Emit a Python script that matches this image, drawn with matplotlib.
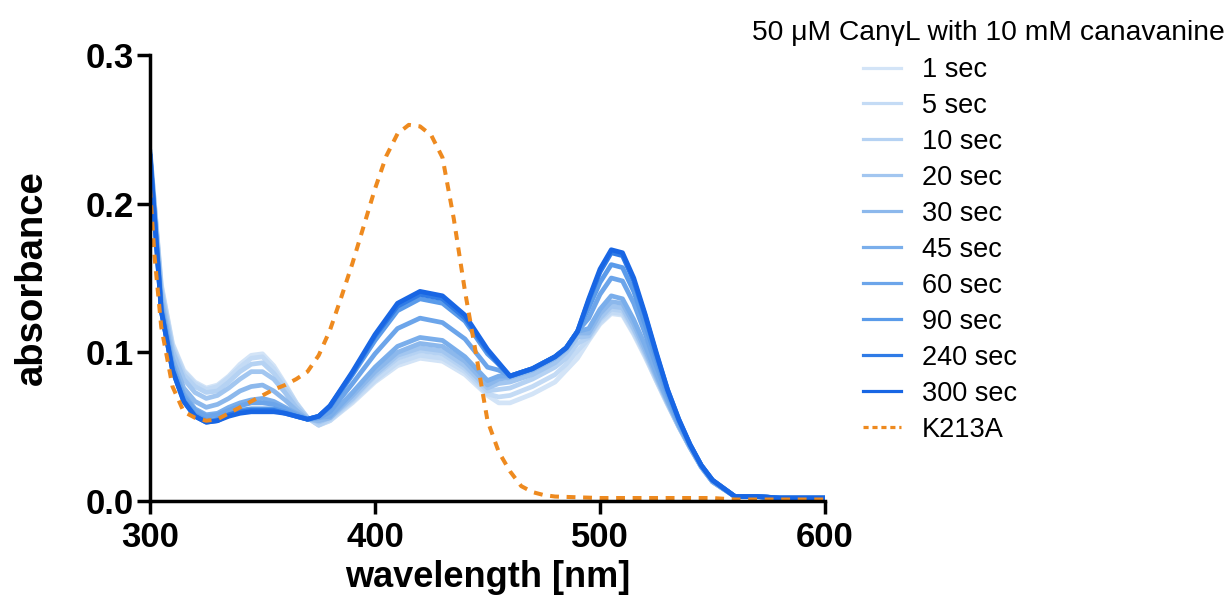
import matplotlib
matplotlib.use("Agg")
import matplotlib.pyplot as plt
from matplotlib.lines import Line2D

plt.rcParams['font.family'] = ['Liberation Sans', 'DejaVu Sans']

wavelength = [300, 305, 310, 315, 320, 325, 330, 335, 340, 345, 350, 355, 360, 365, 370, 375,
              380, 390, 400, 410, 420, 430, 440, 450, 455, 460, 470, 480, 485, 490, 495, 500,
              505, 510, 515, 520, 525, 530, 535, 540, 545, 550, 560, 570, 580, 590, 600]

s1 = [0.236, 0.146, 0.106, 0.088, 0.080, 0.076, 0.078, 0.084, 0.092, 0.098, 0.099, 0.091, 0.079, 0.066, 0.056, 0.051,
      0.054, 0.066, 0.080, 0.091, 0.096, 0.094, 0.085, 0.071, 0.066, 0.066, 0.072, 0.080, 0.088, 0.096, 0.108, 0.119,
      0.126, 0.125, 0.112, 0.097, 0.081, 0.065, 0.050, 0.036, 0.023, 0.013, 0.003, 0.003, 0.002, 0.002, 0.002]
s5 = [0.236, 0.145, 0.105, 0.087, 0.079, 0.075, 0.077, 0.083, 0.090, 0.096, 0.097, 0.089, 0.078, 0.066, 0.056, 0.051,
      0.054, 0.067, 0.081, 0.093, 0.098, 0.096, 0.087, 0.072, 0.070, 0.071, 0.077, 0.085, 0.092, 0.101, 0.109, 0.120,
      0.127, 0.126, 0.113, 0.098, 0.081, 0.065, 0.050, 0.036, 0.023, 0.013, 0.003, 0.003, 0.002, 0.002, 0.002]
s10 = [0.236, 0.143, 0.103, 0.085, 0.077, 0.073, 0.074, 0.080, 0.087, 0.092, 0.093, 0.086, 0.076, 0.065, 0.056, 0.051,
       0.055, 0.068, 0.084, 0.096, 0.101, 0.099, 0.089, 0.074, 0.075, 0.076, 0.082, 0.090, 0.096, 0.106, 0.110, 0.122,
       0.129, 0.128, 0.115, 0.099, 0.082, 0.066, 0.050, 0.036, 0.023, 0.013, 0.003, 0.003, 0.002, 0.002, 0.002]
s20 = [0.235, 0.141, 0.101, 0.082, 0.073, 0.069, 0.071, 0.076, 0.082, 0.087, 0.087, 0.082, 0.073, 0.063, 0.056, 0.053,
       0.056, 0.069, 0.085, 0.098, 0.103, 0.101, 0.091, 0.076, 0.079, 0.080, 0.085, 0.093, 0.100, 0.110, 0.111, 0.123,
       0.131, 0.130, 0.116, 0.100, 0.083, 0.066, 0.050, 0.036, 0.023, 0.013, 0.003, 0.003, 0.002, 0.002, 0.002]
s30 = [0.234, 0.136, 0.096, 0.076, 0.067, 0.063, 0.065, 0.069, 0.074, 0.077, 0.078, 0.074, 0.068, 0.061, 0.055, 0.054,
       0.056, 0.071, 0.087, 0.100, 0.106, 0.104, 0.094, 0.078, 0.082, 0.083, 0.088, 0.096, 0.102, 0.113, 0.113, 0.126,
       0.134, 0.133, 0.119, 0.102, 0.084, 0.067, 0.051, 0.036, 0.023, 0.013, 0.003, 0.003, 0.002, 0.002, 0.002]
s45 = [0.234, 0.132, 0.092, 0.072, 0.062, 0.058, 0.059, 0.063, 0.066, 0.068, 0.069, 0.067, 0.063, 0.059, 0.055, 0.056,
       0.057, 0.073, 0.090, 0.104, 0.110, 0.108, 0.097, 0.081, 0.084, 0.084, 0.089, 0.097, 0.103, 0.114, 0.116, 0.129,
       0.138, 0.136, 0.122, 0.105, 0.086, 0.068, 0.051, 0.037, 0.023, 0.013, 0.003, 0.003, 0.002, 0.002, 0.002]
s60 = [0.234, 0.131, 0.091, 0.070, 0.061, 0.057, 0.058, 0.061, 0.064, 0.066, 0.066, 0.065, 0.062, 0.058, 0.055, 0.056,
       0.060, 0.079, 0.099, 0.116, 0.123, 0.120, 0.109, 0.090, 0.088, 0.084, 0.089, 0.097, 0.103, 0.114, 0.123, 0.139,
       0.150, 0.148, 0.133, 0.113, 0.091, 0.071, 0.053, 0.037, 0.024, 0.014, 0.003, 0.003, 0.002, 0.002, 0.002]
s90 = [0.233, 0.129, 0.089, 0.068, 0.058, 0.054, 0.055, 0.058, 0.061, 0.062, 0.062, 0.062, 0.060, 0.057, 0.055, 0.057,
       0.063, 0.085, 0.108, 0.128, 0.136, 0.133, 0.121, 0.099, 0.092, 0.084, 0.089, 0.097, 0.103, 0.114, 0.130, 0.147,
       0.159, 0.157, 0.141, 0.119, 0.096, 0.073, 0.054, 0.038, 0.024, 0.014, 0.003, 0.003, 0.002, 0.002, 0.002]
s240 = [0.233, 0.128, 0.088, 0.067, 0.057, 0.053, 0.054, 0.058, 0.060, 0.061, 0.061, 0.061, 0.059, 0.057, 0.055, 0.057,
        0.064, 0.086, 0.111, 0.131, 0.139, 0.136, 0.123, 0.101, 0.092, 0.084, 0.089, 0.097, 0.103, 0.114, 0.135, 0.154,
        0.167, 0.165, 0.148, 0.125, 0.099, 0.075, 0.055, 0.038, 0.024, 0.014, 0.003, 0.003, 0.002, 0.002, 0.002]
s300 = [0.233, 0.128, 0.088, 0.067, 0.057, 0.053, 0.054, 0.057, 0.059, 0.060, 0.060, 0.060, 0.059, 0.057, 0.055, 0.057,
        0.064, 0.087, 0.112, 0.133, 0.141, 0.138, 0.125, 0.102, 0.093, 0.084, 0.089, 0.097, 0.103, 0.114, 0.136, 0.156,
        0.169, 0.167, 0.150, 0.126, 0.100, 0.075, 0.055, 0.038, 0.024, 0.014, 0.003, 0.003, 0.002, 0.002, 0.002]

series = [s1, s5, s10, s20, s30, s45, s60, s90, s240, s300]
labels = ['1 sec', '5 sec', '10 sec', '20 sec', '30 sec', '45 sec', '60 sec', '90 sec', '240 sec', '300 sec']
colors = ['#D3E4F7', '#C4DBF5', '#B5D2F3', '#A2C6F0', '#8CB8EC', '#7AAEEB', '#6CA5EA', '#5A9BEA', '#2F7BE6', '#1866E4']

k213a_wl = [300, 302, 305, 310, 315, 320, 325, 330, 335, 340, 345, 350, 355, 360, 365, 370, 375, 380, 385,
            390, 395, 400, 405, 410, 415, 420, 425, 430, 435, 440, 445, 450, 455, 460, 465, 470, 475, 480,
            500, 550, 560, 600]
k213a = [0.210, 0.165, 0.117, 0.077, 0.060, 0.056, 0.054, 0.055, 0.059, 0.063, 0.067, 0.071, 0.075, 0.078,
         0.082, 0.087, 0.098, 0.115, 0.137, 0.160, 0.185, 0.210, 0.232, 0.247, 0.253, 0.252, 0.246, 0.231,
         0.190, 0.141, 0.098, 0.054, 0.033, 0.020, 0.010, 0.006, 0.004, 0.003, 0.002, 0.002, 0.001, 0.001]

title_text = '50 μM CanγL with 10 mM canavanine'

fig = plt.figure(figsize=(12.27, 6.08), dpi=100)
ax = fig.add_axes([150/1227, 1 - 501/608, 675/1227, 446/608])

for ys, c in zip(series, colors):
    ax.plot(wavelength, ys, color=c, lw=3.4, solid_joinstyle='round', solid_capstyle='round')
ax.plot(k213a_wl, k213a, color='#EE8A1F', lw=2.9, dashes=(2.2, 1.9))

ax.set_xlim(300, 600)
ax.set_ylim(0, 0.3)
ax.set_xticks([300, 400, 500, 600])
ax.set_yticks([0.0, 0.1, 0.2, 0.3])
ax.set_yticklabels(['0.0', '0.1', '0.2', '0.3'])
for s in ['top', 'right']:
    ax.spines[s].set_visible(False)
for s in ['left', 'bottom']:
    ax.spines[s].set_linewidth(2.5)
ax.tick_params(direction='out', length=9.5, width=2.5, labelsize=25)
ax.tick_params(axis='y', pad=2)
ax.tick_params(axis='x', pad=5)
for lab in ax.get_xticklabels() + ax.get_yticklabels():
    lab.set_fontweight('bold')
ax.set_xlabel('wavelength [nm]', fontsize=26, fontweight='bold', labelpad=4)
ax.set_ylabel('absorbance', fontsize=27.5, fontweight='bold', labelpad=26)

handles = [Line2D([], [], color=c, lw=2.3) for c in colors]
handles.append(Line2D([], [], color='#EE8A1F', lw=2.3, dashes=(1.6, 1.2)))
leg = fig.legend(handles, labels + ['K213A'], loc='upper left',
                 bbox_to_anchor=(863/1227, 1 - 57/608), frameon=False, fontsize=19.5,
                 handlelength=1.4, handletextpad=0.78, labelspacing=0.368, borderaxespad=0,
                 borderpad=0)
fig.text(752/1227, 1 - 40/608, title_text, fontsize=20.3, ha='left', va='baseline')

fig.savefig('out.png', dpi=100)
